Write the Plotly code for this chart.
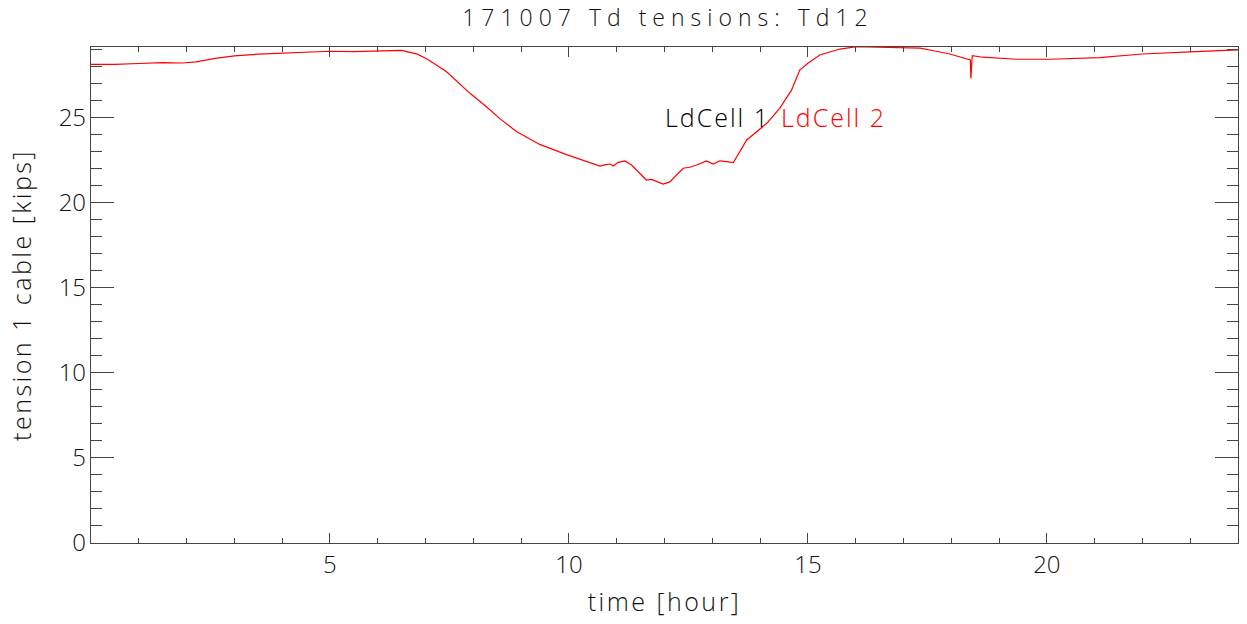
import plotly.graph_objects as go

# Data (time in hours, tension in kips)
time_hr = [0.0, 0.5, 1.0, 1.5, 1.9, 2.2, 2.6, 3.0, 3.5, 4.0, 4.5, 5.0, 5.5, 6.0, 6.5,
           6.83, 7.04, 7.44, 7.93, 8.28, 8.56, 8.91, 9.39, 9.95, 10.37, 10.65, 10.75,
           10.86, 10.93, 11.03, 11.17, 11.31, 11.62, 11.73, 11.97, 12.11, 12.39, 12.53,
           12.67, 12.88, 13.02, 13.16, 13.30, 13.44, 13.72, 14.14, 14.41, 14.66, 14.83,
           15.00, 15.25, 15.67, 16.02, 16.50, 16.91, 17.35, 17.63, 17.97, 18.40, 18.41,
           18.44, 18.66, 19.36, 20.06, 21.10, 22.0, 23.0, 24.0]
ldcell2 = [28.10, 28.10, 28.15, 28.20, 28.18, 28.25, 28.45, 28.60, 28.70, 28.75, 28.82,
           28.87, 28.85, 28.87, 28.92, 28.70, 28.40, 27.67, 26.40, 25.60, 24.90, 24.15,
           23.40, 22.80, 22.39, 22.13, 22.20, 22.25, 22.13, 22.35, 22.43, 22.19, 21.31,
           21.35, 21.07, 21.20, 22.00, 22.06, 22.19, 22.43, 22.25, 22.44, 22.39, 22.33,
           23.66, 24.64, 25.52, 26.60, 27.77, 28.17, 28.65, 29.00, 29.14, 29.10, 29.10,
           29.05, 28.90, 28.71, 28.36, 27.28, 28.61, 28.52, 28.40, 28.40, 28.50, 28.71,
           28.83, 28.95]

x_ticks = [5, 10, 15, 20]
y_ticks = [0, 5, 10, 15, 20, 25]
labels = ["LdCell 1", "LdCell 2"]
label_colors = ["#000000", "#ff0000"]
label_x = [13.11, 15.545]
label_y = 25.0

FONT = "Open Sans, DejaVu Sans, sans-serif"
W = 300
AX = "#444444"
TXT = "#111111"

fig = go.Figure()
fig.add_trace(go.Scatter(x=time_hr, y=ldcell2, mode="lines",
                         line=dict(color="#ff0000", width=1.2),
                         name=labels[1], showlegend=False))

for t, c, xx in zip(labels, label_colors, label_x):
    fig.add_annotation(x=xx, y=label_y, xref="x", yref="y", text=t,
                       showarrow=False, xanchor="center", yanchor="middle",
                       font=dict(family=FONT, size=25, color=c, weight=W))

axis_common = dict(showgrid=False, zeroline=False, showline=True, linecolor=AX,
                   linewidth=1.3, mirror="ticks", ticks="inside", tickcolor=AX,
                   tickwidth=1.2, automargin=False,
                   tickfont=dict(family=FONT, size=24, color=TXT, weight=W))

fig.update_xaxes(range=[0, 24], tickvals=x_ticks, ticklen=10, ticklabelstandoff=0,
                 minor=dict(dtick=1, tick0=0, ticks="inside", ticklen=5,
                            tickcolor=AX, tickwidth=1.2),
                 title=dict(text="time [hour]", standoff=14,
                            font=dict(family=FONT, size=25, color=TXT, weight=W)),
                 **axis_common)
fig.update_yaxes(range=[0, 29.12], tickvals=y_ticks, ticklen=23, ticklabelstandoff=-1,
                 minor=dict(dtick=1, tick0=0, ticks="inside", ticklen=11,
                            tickcolor=AX, tickwidth=1.2),
                 title=dict(text="tension 1 cable [kips]", standoff=19,
                            font=dict(family=FONT, size=25, color=TXT, weight=W)),
                 **axis_common)

fig.update_layout(
    width=1247, height=624,
    margin=dict(l=91, r=9, t=47, b=81, autoexpand=False),
    paper_bgcolor="white", plot_bgcolor="white",
    title=dict(text="171007 Td tensions: Td12", x=0.503, xref="paper",
               y=1 - 18 / 624, yref="container", yanchor="middle", xanchor="center",
               font=dict(family=FONT, size=23, color=TXT, weight=W)),
    showlegend=False,
)

post = ("document.body.style.margin='0';"
        "document.querySelectorAll('.gtitle').forEach(function(t){t.style.letterSpacing='6px';});"
        "document.querySelectorAll('.xtitle,.ytitle').forEach(function(t){t.style.letterSpacing='2.5px';});"
        "document.querySelectorAll('.annotation-text').forEach(function(t){t.style.letterSpacing='2px';});")
fig.write_html("out.html", post_script=post, config={"displayModeBar": False})
